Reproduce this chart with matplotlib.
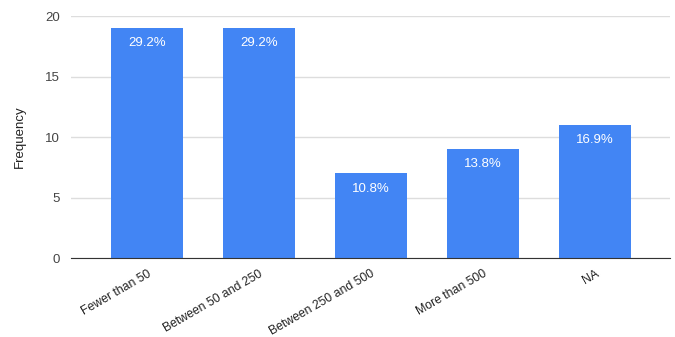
import matplotlib
matplotlib.use('Agg')
import matplotlib.pyplot as plt

# datos
categorias = ['Fewer than 50', 'Between 50 and 250', 'Between 250 and 500',
              'More than 500', 'NA']
frecuencias = [19, 19, 7, 9, 11]
porcentajes = ['29.2%', '29.2%', '10.8%', '13.8%', '16.9%']
yticks = [0, 5, 10, 15, 20]

plt.rcParams['font.family'] = ['Liberation Sans', 'DejaVu Sans']

fig = plt.figure(figsize=(6.75, 3.37), dpi=100)
ax = fig.add_axes([0.105, 0.234, 0.888, 0.718])

x = range(len(categorias))
barras = ax.bar(x, frecuencias, width=0.64, color='#4285F4', zorder=3)

for b, p in zip(barras, porcentajes):
    ax.text(b.get_x() + b.get_width() / 2, b.get_height() - 0.75, p,
            ha='center', va='top', color='white', fontsize=9.5, zorder=4)

ax.set_xlim(-0.68, 4.67)
ax.set_ylim(0, 20)
ax.set_yticks(yticks)
ax.set_xticks(list(x))
ax.set_xticklabels(categorias, rotation=30, ha='right', rotation_mode='anchor',
                   fontsize=8.8, color='#222222')
ax.tick_params(axis='y', length=0, labelsize=9.5, labelcolor='#444444', pad=8)
ax.tick_params(axis='x', length=0, pad=7)

ax.grid(axis='y', color='#dddddd', linewidth=1, zorder=0)
for s in ['top', 'right', 'left']:
    ax.spines[s].set_visible(False)
ax.spines['bottom'].set_color('#333333')
ax.spines['bottom'].set_zorder(5)

ax.set_ylabel('Frequency', fontsize=9.5, color='#222222', labelpad=14)

fig.savefig('out.png', dpi=100)
